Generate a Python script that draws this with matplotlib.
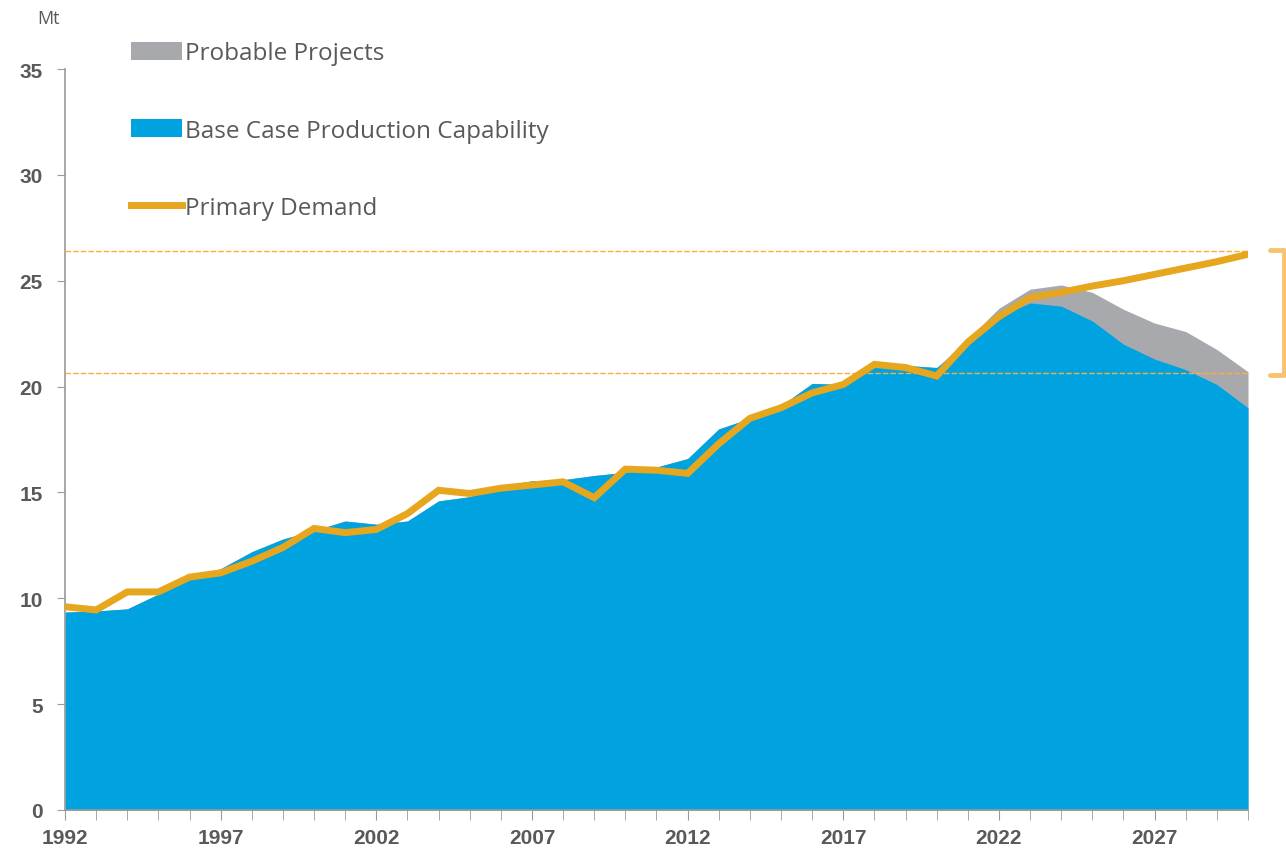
import matplotlib
matplotlib.use("Agg")
import matplotlib.pyplot as plt
from matplotlib.patches import Patch
from matplotlib.lines import Line2D

years = list(range(1992, 2031))

base_case = [9.35, 9.4, 9.5, 10.2, 10.9, 11.4, 12.2, 12.8, 13.2, 13.65,
             13.5, 13.65, 14.6, 14.8, 15.3, 15.55, 15.6, 15.8, 15.95, 16.2,
             16.6, 18.0, 18.5, 19.1, 20.15, 20.1, 20.9, 21.0, 20.9, 22.0,
             23.3, 23.95, 23.8, 23.1, 22.0, 21.3, 20.8, 20.1, 19.0]

probable = [0, 0, 0, 0, 0, 0, 0, 0, 0, 0,
            0, 0, 0, 0, 0, 0, 0, 0, 0, 0,
            0, 0, 0, 0, 0, 0, 0, 0, 0, 0.25,
            0.4, 0.65, 1.0, 1.35, 1.65, 1.7, 1.8, 1.65, 1.7]

demand = [9.6, 9.45, 10.3, 10.3, 11.0, 11.2, 11.75, 12.4, 13.3, 13.1,
          13.25, 14.0, 15.1, 14.95, 15.2, 15.35, 15.5, 14.75, 16.1, 16.05,
          15.9, 17.3, 18.5, 19.0, 19.7, 20.1, 21.05, 20.9, 20.5, 22.1,
          23.3, 24.2, 24.45, 24.75, 25.0, 25.3, 25.6, 25.9, 26.25]

range_lines = [26.4, 20.65]

y_ticks = [0, 5, 10, 15, 20, 25, 30, 35]
x_ticks = [1992, 1997, 2002, 2007, 2012, 2017, 2022, 2027]

legend_labels = ["Probable Projects", "Base Case Production Capability", "Primary Demand"]

BLUE = "#00A3E0"
GREY = "#A8A9AD"
ORANGE = "#E6A61E"
DASH_ORANGE = "#FAAE3C"
BRACKET = "#F7C272"
TEXT = "#595959"

narrow = ["Liberation Sans Narrow", "Liberation Sans", "DejaVu Sans"]
regular = ["Open Sans", "DejaVu Sans"]

fig = plt.figure(figsize=(12.86, 8.53), dpi=100)
ax = fig.add_axes([65/1286, 42/853, (1248-65)/1286, (811-70)/853])

top = [b + p for b, p in zip(base_case, probable)]
ax.fill_between(years, 0, top, color=GREY, linewidth=0, zorder=1)
ax.fill_between(years, 0, base_case, color=BLUE, linewidth=0, zorder=2)
ax.plot(years, demand, color=ORANGE, linewidth=5, zorder=4, solid_joinstyle="miter")

for yv in range_lines:
    ax.axhline(yv, color=DASH_ORANGE, linewidth=1, linestyle=(0, (4, 1.5)), zorder=3)

# bracket on the right
bx0, bx1 = 2030.72, 2031.17
ax.plot([bx0, bx1, bx1, bx0], [range_lines[0] + 0.05, range_lines[0] + 0.05,
                               range_lines[1] - 0.1, range_lines[1] - 0.1],
        color=BRACKET, linewidth=3.5, clip_on=False, zorder=5,
        solid_joinstyle="round", solid_capstyle="round")

ax.set_xlim(1992, 2030)
ax.set_ylim(0, 35)

for side in ["top", "right"]:
    ax.spines[side].set_visible(False)
for side in ["left", "bottom"]:
    ax.spines[side].set_color("#9A9A9A")
    ax.spines[side].set_linewidth(1.2)

ax.set_yticks(y_ticks)
ax.set_xticks(x_ticks)
ax.set_xticks(years, minor=True)
ax.tick_params(axis="both", which="both", colors="#9A9A9A", direction="out")
ax.tick_params(axis="y", length=6, pad=10)
ax.tick_params(axis="x", which="both", length=7, pad=6)
for lab in ax.get_yticklabels() + ax.get_xticklabels():
    lab.set_family(narrow)
    lab.set_fontweight("bold")
    lab.set_fontsize(15)
    lab.set_color(TEXT)

fig.text(48/1286, 1 - 19/853, "Mt", ha="center", va="center", fontsize=13,
         color=TEXT, family=regular)

handles = [Patch(facecolor=GREY, edgecolor="none"),
           Patch(facecolor=BLUE, edgecolor="none"),
           Line2D([0], [0], color=ORANGE, linewidth=5)]
leg = fig.legend(handles, legend_labels, loc="upper left",
                 bbox_to_anchor=(119/1286, 1 - 30/853), frameon=False,
                 prop={"family": regular, "size": 17.5}, labelspacing=2.2,
                 handlelength=2.1, handleheight=0.75, handletextpad=0.1,
                 borderpad=0)
for t in leg.get_texts():
    t.set_color(TEXT)

fig.savefig("out.png", dpi=100)
